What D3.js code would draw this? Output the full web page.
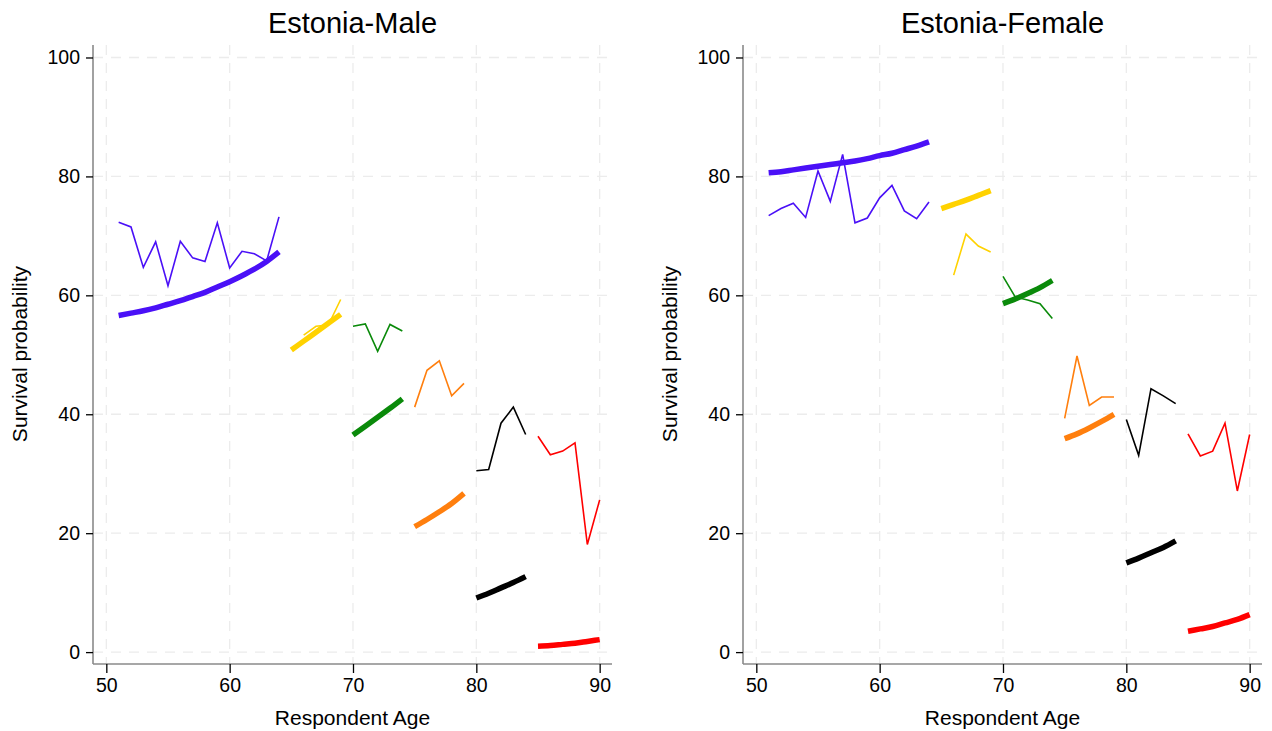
<!DOCTYPE html>
<html>
<head>
<meta charset="utf-8">
<script src="https://cdn.jsdelivr.net/npm/d3@7"></script>
<style>
  body { margin: 0; background: #fff; }
  text { font-family: "Liberation Sans", Arial, Helvetica, sans-serif; fill: #000; }
</style>
</head>
<body>
<svg id="chart" width="1272" height="731"></svg>
<script>
// age groups (one colour each)
const groupAges = [
  [51, 52, 53, 54, 55, 56, 57, 58, 59, 60, 61, 62, 63, 64],
  [65, 66, 67, 68, 69],
  [70, 71, 72, 73, 74],
  [75, 76, 77, 78, 79],
  [80, 81, 82, 83, 84],
  [85, 86, 87, 88, 89, 90]
];
const groupColors = ["#4a10f7", "#ffd200", "#0a8a0a", "#ff7f0e", "#000000", "#ff0000"];

// thin line: observed, thick line: predicted
const maleObserved = [
  [72.3, 71.5, 64.7, 69.0, 61.6, 69.1, 66.3, 65.7, 72.2, 64.6, 67.4, 67.0, 65.8, 73.2],
  [null, 53.3, 54.8, 55.0, 59.3],
  [54.8, 55.2, 50.6, 55.1, 54.0],
  [41.2, 47.4, 49.0, 43.1, 45.2],
  [30.5, 30.7, 38.5, 41.2, 36.6],
  [36.3, 33.2, 33.8, 35.2, 18.1, 25.6]
];
const malePredicted = [
  [56.6, 57.0, 57.4, 57.9, 58.5, 59.1, 59.8, 60.5, 61.4, 62.3, 63.3, 64.4, 65.7, 67.3],
  [50.8, 52.3, 53.8, 55.3, 56.8],
  [36.5, 38.0, 39.5, 41.0, 42.6],
  [21.1, 22.3, 23.6, 25.0, 26.7],
  [9.1, 9.9, 10.8, 11.7, 12.7],
  [1.0, 1.1, 1.3, 1.5, 1.8, 2.1]
];
const femaleObserved = [
  [73.4, 74.6, 75.5, 73.1, 80.9, 75.8, 83.7, 72.2, 73.0, 76.4, 78.5, 74.2, 72.9, 75.7],
  [null, 63.4, 70.3, 68.3, 67.3],
  [63.2, 59.7, 59.2, 58.6, 56.1],
  [39.3, 49.8, 41.5, 42.9, 42.9],
  [39.1, 33.1, 44.3, 43.1, 41.8],
  [36.7, 33.0, 33.8, 38.5, 27.1, 36.6]
];
const femalePredicted = [
  [80.6, 80.8, 81.1, 81.4, 81.7, 82.0, 82.3, 82.6, 83.0, 83.5, 83.9, 84.5, 85.1, 85.8],
  [74.6, 75.3, 76.0, 76.8, 77.6],
  [58.6, 59.4, 60.3, 61.3, 62.5],
  [35.9, 36.7, 37.7, 38.8, 40.0],
  [15.0, 15.8, 16.7, 17.6, 18.7],
  [3.5, 3.9, 4.3, 4.9, 5.5, 6.3]
];

const xTicks = [50, 60, 70, 80, 90];
const yTicks = [0, 20, 40, 60, 80, 100];

const panels = [
  { title: "Estonia-Male", left: 93, observed: maleObserved, predicted: malePredicted },
  { title: "Estonia-Female", left: 743, observed: femaleObserved, predicted: femalePredicted }
];

const svg = d3.select("#chart");
const plotTop = 45, plotBottom = 664, plotW = 519;

panels.forEach(p => {
  const x = d3.scaleLinear().domain([48.92, 91]).range([p.left, p.left + plotW]);
  const y = d3.scaleLinear().domain([-2, 102.1]).range([plotBottom, plotTop]);
  const g = svg.append("g");

  // dashed grid
  g.append("g").selectAll("line").data(yTicks).join("line")
    .attr("x1", p.left).attr("x2", p.left + plotW)
    .attr("y1", d => y(d)).attr("y2", d => y(d))
    .attr("stroke", "#ececec").attr("stroke-width", 1.3).attr("stroke-dasharray", "10,8");
  g.append("g").selectAll("line").data(xTicks).join("line")
    .attr("x1", d => x(d)).attr("x2", d => x(d))
    .attr("y1", plotTop).attr("y2", plotBottom)
    .attr("stroke", "#ececec").attr("stroke-width", 1.3).attr("stroke-dasharray", "10,8");

  // axes
  const yAxis = g.append("g").attr("transform", `translate(${p.left},0)`)
    .call(d3.axisLeft(y).tickValues(yTicks).tickSize(7).tickPadding(6));
  const xAxis = g.append("g").attr("transform", `translate(0,${plotBottom})`)
    .call(d3.axisBottom(x).tickValues(xTicks).tickSize(9).tickPadding(5));
  [xAxis, yAxis].forEach(a => {
    a.select(".domain").attr("stroke", "#8a8a8a").attr("stroke-width", 1.6);
    a.selectAll(".tick line").attr("stroke", "#000").attr("stroke-width", 1.3);
    a.selectAll(".tick text").attr("font-size", 19.5).attr("fill", "#000")
      .style("font-family", "'Liberation Sans', Arial, sans-serif");
  });
  yAxis.select(".domain").attr("d", `M0,${plotTop}V${plotBottom}`);
  xAxis.select(".domain").attr("d", `M${p.left},0H${p.left + plotW}`);

  // lines
  const line = d3.line()
    .defined(d => d.v != null)
    .x(d => x(d.age)).y(d => y(d.v));
  const smooth = d3.line().curve(d3.curveMonotoneX)
    .x(d => x(d.age)).y(d => y(d.v));

  groupAges.forEach((ages, i) => {
    const obs = ages.map((a, j) => ({ age: a, v: p.observed[i][j] }));
    const pred = ages.map((a, j) => ({ age: a, v: p.predicted[i][j] }));
    g.append("path").datum(obs).attr("d", line)
      .attr("fill", "none").attr("stroke", groupColors[i]).attr("stroke-width", 1.6)
      .attr("stroke-linejoin", "miter");
    g.append("path").datum(pred).attr("d", smooth)
      .attr("fill", "none").attr("stroke", groupColors[i]).attr("stroke-width", 5.5)
      .attr("stroke-linecap", "butt");
  });

  // titles
  g.append("text").attr("x", p.left + plotW / 2).attr("y", 33)
    .attr("text-anchor", "middle").attr("font-size", 29).text(p.title);
  g.append("text").attr("x", p.left + plotW / 2).attr("y", 725)
    .attr("text-anchor", "middle").attr("font-size", 21).text("Respondent Age");
  g.append("text")
    .attr("transform", `translate(${p.left - 66},354) rotate(-90)`)
    .attr("text-anchor", "middle").attr("font-size", 21).text("Survival probability");
});
</script>
</body>
</html>
